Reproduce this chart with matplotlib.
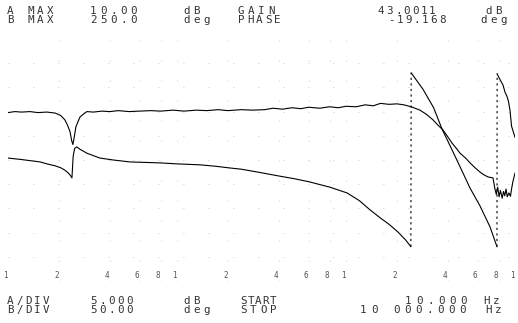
import numpy as np
import matplotlib
matplotlib.use("Agg")
import matplotlib.pyplot as plt
import matplotlib.transforms as mtransforms

W, H = 518, 323

# trace A: gain (dB) vs frequency (Hz)
gain_freq = [10, 11, 12, 13.5, 15, 17, 19, 20.5, 21.7, 22.5,
             23.3, 23.8, 24.2, 24.6, 25.2, 26, 26.7, 28, 29.3, 32,
             36, 40, 45, 52, 60, 70, 80, 95, 110, 130,
             150, 175, 200, 240, 280, 330, 370, 420, 480, 540,
             600, 700, 800, 900, 1000, 1150, 1300, 1450, 1600, 1800,
             2000, 2200, 2430, 2740, 3000, 3270, 3500, 3750, 4000, 4240,
             4500, 4730, 5100, 5420, 5800, 6210, 6500, 6920, 7410, 7600,
             7750, 7900, 8050, 8200, 8400, 8550, 8700, 8850, 9000, 9200,
             9400, 9540, 9700, 10000]
gain_db = [-5.2, -5.0, -5.1, -5.0, -5.2, -5.1, -5.3, -5.8, -6.7, -7.8,
           -9.2, -11.0, -11.8, -10.5, -8.2, -7.0, -6.1, -5.5, -5.0, -5.1,
           -4.9, -5.0, -4.8, -5.0, -4.9, -4.8, -4.9, -4.7, -4.9, -4.7,
           -4.8, -4.6, -4.8, -4.6, -4.7, -4.6, -4.3, -4.5, -4.2, -4.4,
           -4.1, -4.3, -4.0, -4.2, -3.9, -4.0, -3.6, -3.8, -3.3, -3.5,
           -3.4, -3.6, -4.0, -4.7, -5.6, -6.7, -7.8, -8.8, -10.2, -11.5,
           -12.6, -13.6, -14.6, -15.6, -16.6, -17.5, -18.0, -18.5, -18.7, -20.9,
           -22.1, -20.6, -22.6, -21.3, -22.9, -21.5, -22.4, -21.0, -22.6, -21.8,
           -22.5, -21.0, -19.6, -17.7]

# trace B: phase (deg) vs frequency (Hz), wrapped at +-180
phase_freq = [10, 12, 14, 15.5, 17, 19, 20.5, 21.7, 22.6, 23.3,
              23.9, 24.3, 24.8, 25.5, 26.7, 28, 29.3, 32, 35, 42,
              52.7, 65, 79.3, 100, 137, 170, 200, 240, 301, 400,
              500, 604, 800, 1014, 1200, 1387, 1600, 1800, 2033, 2250,
              2420, 2430, 2857, 3300, 3700, 4200, 4730, 5420, 6210, 7110,
              7820, 7840, 8100, 8490, 8730, 8950, 9140, 9340, 9540, 10000]
phase_deg = [4, 1, -2, -4, -8, -12, -16, -21, -26, -31,
             -37, 8, 24, 27, 22, 18, 14, 9, 4, 0,
             -4, -5, -6, -8, -10, -13, -16, -19, -25, -33,
             -39, -45, -56, -68, -84, -103, -120, -133, -149, -165,
             -179, 180, 146, 108, 64, 24, -14, -58, -95, -138,
             -179, 178, 168, 155, 140, 132, 122, 103, 70, 47]

grid_freqs = [20, 40, 60, 80, 100, 200, 400, 600, 800, 1000, 2000, 4000, 6000, 8000]
tick_freqs = [10, 20, 40, 60, 80, 100, 200, 400, 600, 800, 1000, 2000, 4000, 6000, 8000, 10000]
tick_labels = ["1", "2", "4", "6", "8", "1", "2", "4", "6", "8", "1", "2", "4", "6", "8", "1"]

fig = plt.figure(figsize=(W / 100, H / 100), dpi=100)
ax = fig.add_axes([8 / W, 1 - 281 / H, 507 / W, 242 / H])
ax.set_xscale("log")
ax.set_xlim(10, 10000)
ax.set_ylim(-40, 10)
ax2 = ax.twinx()
ax2.set_ylim(-250, 250)
ax.axis("off")
ax2.axis("off")

# sparse graticule, mostly faded out in the printout
for f in grid_freqs:
    ax.axvline(f, color="#b8b8b8", lw=0.6, ls=(0, (1, 23)))
for g in np.arange(-35, 10, 5):
    ax.axhline(g, color="#b8b8b8", lw=0.6, ls=(0, (1, 29)))

ax.plot(gain_freq, gain_db, color="black", lw=0.8)

pf = np.array(phase_freq)
pdg = np.array(phase_deg)
jumps = np.where(np.abs(np.diff(pdg)) > 180)[0]
start = 0
for j in jumps:
    ax2.plot(pf[start:j + 1], pdg[start:j + 1], color="black", lw=0.8)
    ax2.plot(pf[j:j + 2], pdg[j:j + 2], color="black", lw=0.8, ls=(0, (2, 3)))
    start = j + 1
ax2.plot(pf[start:], pdg[start:], color="black", lw=0.8)

# frequency digits along the bottom graticule line
tr = mtransforms.blended_transform_factory(ax.transData, fig.transFigure)
for f, lab in zip(tick_freqs, tick_labels):
    ax.text(f, 1 - 275 / H, lab, transform=tr, ha="right", va="center",
            family="DejaVu Sans Mono", fontsize=5.5, color="#555555")


def plotter_text(x, y, s, pitch=10.0):
    # pen plotter lettering: fixed, wide character pitch
    for i, ch in enumerate(s):
        if ch != " ":
            fig.text((x + i * pitch) / W, 1 - y / H, ch, ha="left", va="center",
                     family="DejaVu Sans Mono", fontsize=7.8, color="#333333")


plotter_text(7, 11, "A MAX")
plotter_text(90, 11, "10.00")
plotter_text(183, 11, "dB")
plotter_text(238, 11, "GAIN")
plotter_text(378, 11, "43.0011", pitch=8.5)
plotter_text(485, 11, "dB")

plotter_text(7, 20, "B MAX")
plotter_text(90, 20, "250.0")
plotter_text(183, 20, "deg")
plotter_text(238, 20, "PHASE", pitch=9)
plotter_text(388, 20, "-19.168", pitch=8.5)
plotter_text(480, 20, "deg")

plotter_text(7, 301, "A/DIV", pitch=9)
plotter_text(90, 301, "5.000", pitch=9)
plotter_text(183, 301, "dB")
plotter_text(240, 301, "START", pitch=7.5)
plotter_text(405, 301, "10.000", pitch=11)
plotter_text(483, 301, "Hz")

plotter_text(7, 310, "B/DIV", pitch=9)
plotter_text(90, 310, "50.00", pitch=9)
plotter_text(183, 310, "deg")
plotter_text(240, 310, "STOP")
plotter_text(360, 310, "10 000.000", pitch=11)
plotter_text(485, 310, "Hz")

fig.savefig("out.png", dpi=100)
